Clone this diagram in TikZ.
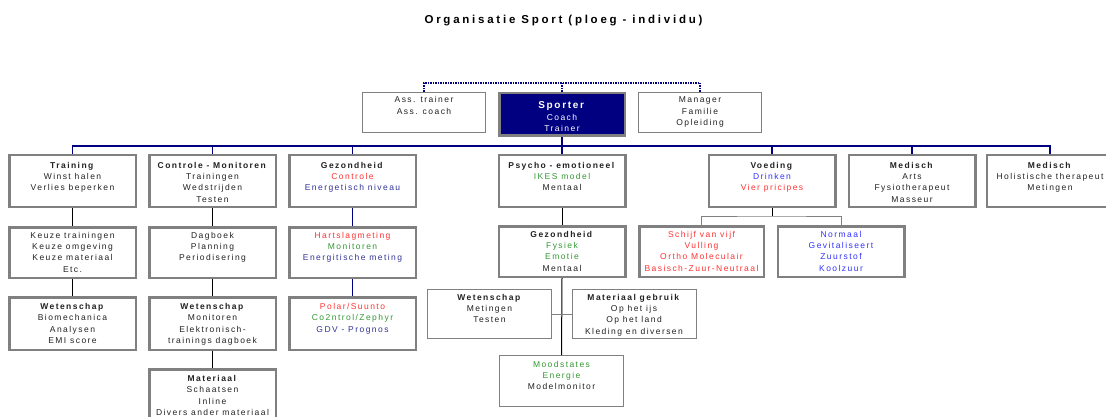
\documentclass[tikz,border=0pt]{standalone}
\usepackage{fontspec}
\setmainfont{Liberation Sans}[LetterSpace=17]
\definecolor{navy}{HTML}{000080}
\definecolor{bgray}{HTML}{808080}
\definecolor{tred}{HTML}{FF3333}
\definecolor{tgreen}{HTML}{339933}
\definecolor{tblue}{HTML}{3333FF}
\definecolor{tnavy}{HTML}{333399}
\definecolor{tdark}{HTML}{222222}
\newcommand\Rd[1]{\textcolor{tred}{#1}}
\newcommand\Gr[1]{\textcolor{tgreen}{#1}}
\newcommand\Bl[1]{\textcolor{tblue}{#1}}
\newcommand\Nv[1]{\textcolor{tnavy}{#1}}
\newcommand\lines[1]{\begin{tabular}[t]{@{}c@{}}#1\end{tabular}}
\tikzset{
  basebox/.style={inner ysep=0pt, inner xsep=0pt, text=tdark,
    font=\fontsize{8.5}{11.4}\selectfont},
  thickbox/.style={basebox, draw=bgray, line width=2.5pt, fill=white},
  thinbox/.style={basebox, draw=bgray, line width=1pt, fill=white},
  rowtwo/.style={thickbox, minimum width=126.5pt, text height=12.75pt, text depth=38.75pt},
  rowthree/.style={thickbox, minimum width=126.5pt, text height=10.75pt, text depth=39.75pt},
  rowfour/.style={thickbox, minimum width=126.5pt, text height=12.25pt, text depth=40.25pt},
  navyline/.style={draw=navy, line width=1.5pt},
  blackline/.style={draw=black, line width=1pt},
  grayline/.style={draw=bgray, line width=1pt},
}
\begin{document}
\begin{tikzpicture}[x=1pt,y=-1pt]
\useasboundingbox (0,0) rectangle (1106,417);
\clip (0,0) rectangle (1106,417);
\fill[white] (0,0) rectangle (1106,417);

\node[anchor=base, font=\fontsize{11.5}{12}\selectfont\bfseries\addfontfeature{LetterSpace=24}, text=black] (title) at (563.5,24) {Organisatie Sport (ploeg - individu)};

% top row
\node[thinbox, minimum width=123pt, text height=10.5pt, text depth=29.5pt] (ass) at (424,112.5) {\lines{Ass. trainer\\Ass. coach}};
\node[thickbox, fill=navy, text=white, minimum width=125.5pt, text height=15.75pt, text depth=26.75pt] (sp) at (562,114.5) {\lines{{\fontsize{10}{11}\selectfont\textbf{Sporter}}\\Coach\\Trainer}};
\node[thinbox, minimum width=123pt, text height=10.5pt, text depth=29.5pt] (mgr) at (700,112.5) {\lines{Manager\\Familie\\Opleiding}};

% row 2
\node[rowtwo] (train) at (72.5,181) {\lines{\textbf{Training}\\Winst halen\\Verlies beperken}};
\node[rowtwo] (ctrl) at (212.5,181) {\lines{\textbf{Controle - Monitoren}\\Trainingen\\Wedstrijden\\Testen}};
\node[rowtwo] (gez) at (352.5,181) {\lines{\textbf{Gezondheid}\\\Rd{Controle}\\\Nv{Energetisch niveau}}};
\node[rowtwo] (psy) at (562,181) {\lines{\textbf{Psycho - emotioneel}\\\Gr{IKES model}\\Mentaal}};
\node[rowtwo] (voed) at (772,181) {\lines{\textbf{Voeding}\\\Bl{Drinken}\\\Rd{Vier pricipes}}};
\node[rowtwo] (med1) at (912,181) {\lines{\textbf{Medisch}\\Arts\\Fysiotherapeut\\Masseur}};
\node[rowtwo] (med2) at (1050,181) {\lines{\textbf{Medisch}\\Holistische therapeut\\Metingen}};

% row 3
\node[rowthree] (keuze) at (72.5,252.5) {\lines{Keuze trainingen\\Keuze omgeving\\Keuze materiaal\\Etc.}};
\node[rowthree] (dag) at (212.5,252.5) {\lines{Dagboek\\Planning\\Periodisering}};
\node[rowthree] (hart) at (352.5,252.5) {\lines{\Rd{Hartslagmeting}\\\Gr{Monitoren}\\\Nv{Energitische meting}}};
\node[rowthree] (pgez) at (562,251.5) {\lines{\textbf{Gezondheid}\\\Gr{Fysiek}\\\Gr{Emotie}\\Mentaal}};
\node[rowthree, minimum width=124.5pt] (schijf) at (701.5,251.5) {\lines{\Rd{Schijf van vijf}\\\Rd{Vulling}\\\Rd{Ortho Moleculair}\\\Rd{Basisch-Zuur-Neutraal}}};
\node[rowthree] (norm) at (841,251.5) {\lines{\Bl{Normaal}\\\Bl{Gevitaliseert}\\\Bl{Zuurstof}\\\Bl{Koolzuur}}};

% row 4
\node[rowfour] (wet1) at (72.5,323.5) {\lines{\textbf{Wetenschap}\\Biomechanica\\Analysen\\EMI score}};
\node[rowfour] (wet2) at (212.5,323.5) {\lines{\textbf{Wetenschap}\\Monitoren\\Elektronisch-\\trainings dagboek}};
\node[rowfour] (polar) at (352.5,323.5) {\lines{\Rd{Polar/Suunto}\\\Gr{Co2ntrol/Zephyr}\\\Nv{GDV - Prognos}}};

% row 5
\node[rowfour] (mat) at (212.5,395.5) {\lines{\textbf{Materiaal}\\Schaatsen\\Inline\\Divers ander materiaal}};

% psycho thin boxes
\node[thinbox, minimum width=124pt, text height=10.5pt, text depth=38.5pt] (wet3) at (489.5,314) {\lines{\textbf{Wetenschap}\\Metingen\\Testen}};
\node[thinbox, minimum width=124pt, text height=10.5pt, text depth=38.5pt] (matg) at (634,314) {\lines{\textbf{Materiaal gebruik}\\Op het ijs\\Op het land\\Kleding en diversen}};
\node[thinbox, minimum width=124pt, text height=11.5pt, text depth=39.5pt] (mood) at (561.5,381) {\lines{\Gr{Moodstates}\\\Gr{Energie}\\Modelmonitor}};

% connectors
\coordinate (dt) at (562,83);
\draw[navy, line width=1.5pt, densely dotted] (ass.north) |- (dt) -| (mgr.north);
\draw[navy, line width=1.5pt, densely dotted] (sp.north) -- (dt);

\coordinate (bus) at (562,146);
\draw[navyline] (sp.south) -- (bus);
\foreach \n in {train,ctrl,gez,voed,med1,med2} \draw[navyline] (\n.north) |- (bus);
\draw[navyline] (psy.north) -- (bus);

\draw[blackline] (train.south) -- (keuze.north);
\draw[blackline] (keuze.south) -- (wet1.north);
\draw[blackline] (ctrl.south) -- (dag.north);
\draw[blackline] (dag.south) -- (wet2.north);
\draw[blackline] (wet2.south) -- (mat.north);
\draw[navyline] (gez.south) -- (hart.north);
\draw[navyline] (hart.south) -- (polar.north);
\draw[blackline] (psy.south) -- (pgez.north);
\draw[blackline] (pgez.south) -- (mood.north);
\draw[grayline] (wet3.east) -- (matg.west);

\coordinate (vs) at (772,216);
\draw[blackline] (voed.south) -- (vs);
\draw[grayline] (schijf.north) |- (vs) -| (norm.north);
\end{tikzpicture}
\end{document}
